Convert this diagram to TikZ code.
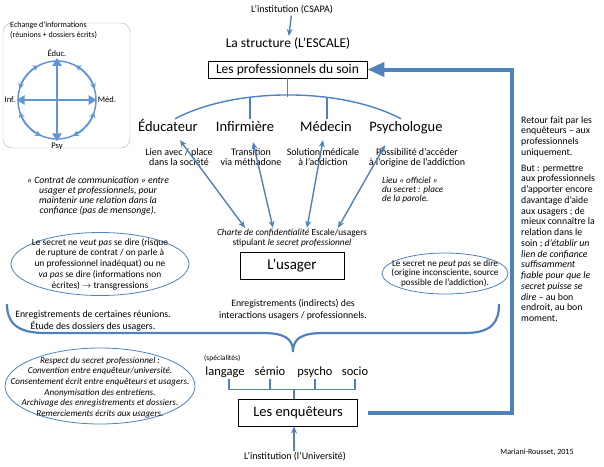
\documentclass[tikz,border=0pt]{standalone}
\usepackage{fontspec}
\setmainfont{Carlito}
\usepackage{tikz}
\usetikzlibrary{shapes.geometric, arrows.meta, positioning, calc}

\definecolor{lineblue}{RGB}{79,129,189}
\definecolor{ringblue}{RGB}{96,150,216}
\newcommand{\sz}[2]{\fontsize{#1}{#2}\selectfont}

\begin{document}
\begin{tikzpicture}[
    x=1pt, y=-1pt,
    % Framed boxes
    frame/.style={rectangle, draw=black, line width=0.9pt, inner sep=0pt, align=center},
    % Plain labels
    lab/.style={inner sep=1pt, align=center},
    % Profession labels
    trade/.style={lab, font=\sz{14.5}{16}, text height=11pt, text depth=3pt},
    % Specialty labels
    spec/.style={lab, font=\sz{12.5}{14}, text height=9pt, text depth=3pt},
    % Ellipses
    bubble/.style={ellipse, draw=lineblue, line width=0.8pt, inner sep=0pt},
    % Thin arrows
    arr/.style={-{Stealth[length=7pt,width=6pt]}, line width=1.4pt, draw=lineblue},
    darr/.style={{Stealth[length=7pt,width=6pt]}-{Stealth[length=7pt,width=6pt]}, line width=1.4pt, draw=lineblue},
    % Plain connectors
    link/.style={line width=1.4pt, draw=lineblue},
    % Feedback arrow
    back/.style={-{Triangle[length=17pt,width=14pt]}, line width=4pt, draw=lineblue},
    % Exchange ring
    ring/.style={{Stealth[length=6pt,width=6pt]}-{Stealth[length=6pt,width=6pt]}, line width=1.5pt, draw=ringblue},
    cross/.style={{Triangle[length=8pt,width=9pt]}-{Triangle[length=8pt,width=9pt]}, line width=2.8pt, draw=ringblue},
]

\useasboundingbox (0,0) rectangle (604,466);

% ===== EXCHANGE BOX =====
\node[draw=gray!60, rounded corners=9pt, minimum width=127pt, minimum height=125pt] (exch_box) at (66.5,85.5) {};
\node[lab, anchor=west, align=left, font=\sz{8}{10}] (exch_title) at (9,30)
    {Echange d’informations\\(réunions + dossiers écrits)};
\coordinate (exch_c) at (57,100);
\node[lab, font=\sz{8.5}{10}] (lab_educ) at (57,53) {Éduc.};
\node[lab, font=\sz{8.5}{10}] (lab_med) at (107,100) {Méd.};
\node[lab, font=\sz{8.5}{10}] (lab_inf) at (10,100) {Inf.};
\node[lab, font=\sz{8.5}{10}] (lab_psy) at (57,146) {Psy};

\draw[line width=1.5pt, ringblue] (exch_c) circle[radius=39pt];
\draw[ring] ([shift={(16:39pt)}]exch_c) arc[start angle=16, end angle=62, radius=39pt];
\draw[ring] ([shift={(118:39pt)}]exch_c) arc[start angle=118, end angle=164, radius=39pt];
\draw[ring] ([shift={(198:39pt)}]exch_c) arc[start angle=198, end angle=246, radius=39pt];
\draw[ring] ([shift={(294:39pt)}]exch_c) arc[start angle=294, end angle=342, radius=39pt];
\draw[cross] (lab_educ) -- (lab_psy);
\draw[cross] (lab_inf) -- (lab_med);

% ===== CARE SIDE =====
\node[lab, font=\sz{10}{12}] (inst_top) at (292,10) {L’institution (CSAPA)};
\node[lab, font=\sz{13.5}{15}] (structure) at (288,43) {La structure (L’ESCALE)};
\node[frame, minimum width=159pt, minimum height=17pt, font=\sz{13.5}{15}] (prof) at (287.5,69.5)
    {Les professionnels du soin};

\draw[arr] (inst_top) -- (structure);

\node[trade] (educ) at (168,127) {Éducateur};
\node[trade] (infirm) at (245,127) {Infirmière};
\node[trade] (medecin) at (326,127) {Médecin};
\node[trade] (psycho) at (406,127) {Psychologue};

\draw[link] (prof.south) -- ++(0,19);
\draw[link] ([xshift=7pt]educ.north) .. controls (235,87) and (341,87) .. ([xshift=-5pt]psycho.north);
\draw[link] ([xshift=5pt]infirm.north) -- ++(0,-22);
\draw[link] ([xshift=1pt]medecin.north) -- ++(0,-22);

\node[lab, font=\sz{10}{10}] (educ_note) at (179,157.5) {Lien avec / place\\dans la société};
\node[lab, font=\sz{10}{10}] (infirm_note) at (251,157.5) {Transition\\via méthadone};
\node[lab, font=\sz{10}{10}] (medecin_note) at (323,157.5) {Solution médicale\\à l’addiction};
\node[lab, font=\sz{10}{10}] (psycho_note) at (417,157.5) {Possibilité d’accéder\\à l’origine de l’addiction};

\node[lab, anchor=west, align=left, font=\sz{9.2}{9.2}\itshape] (lieu) at (381,190)
    {Lieu « officiel »\\du secret : place\\de la parole.};
\node[lab, font=\sz{9.7}{10.3}\itshape] (contrat) at (98,196)
    {« Contrat de communication » entre\\usager et professionnels, pour\\maintenir une relation dans la\\confiance (pas de mensonge).};

% ===== USER =====
\node[lab, font=\sz{9.3}{10}] (charte) at (292,238)
    {\textit{Charte de confidentialité} Escale/usagers\\stipulant \textit{le secret professionnel}};
\node[frame, minimum width=104pt, minimum height=27pt, font=\sz{15}{17}] (usager) at (292,265.5) {L’usager};

\draw[darr] ([xshift=-47pt]charte.north) -- ([xshift=12pt,yshift=-5pt]educ.south);
\draw[darr] ([xshift=-19pt]charte.north) -- ([xshift=8pt,yshift=-7pt]infirm.south);
\draw[darr] ([xshift=15pt]charte.north) -- ([xshift=-3pt,yshift=-5pt]medecin.south);
\draw[darr] ([xshift=46pt]charte.north) -- ([xshift=-21pt,yshift=-10pt]psycho.south);

\node[bubble, minimum width=178pt, minimum height=63pt] (secret_l) at (100,264) {};
\node[lab, font=\sz{9.4}{10.7}] (secret_l_txt) at (secret_l)
    {Le secret ne \textit{veut pas} se dire (risque\\de rupture de contrat / on parle à\\un professionnel inadéquat) ou ne\\\textit{va pas} se dire (informations non\\écrites) $\rightarrow$ transgressions};

\node[bubble, minimum width=126pt, minimum height=41pt] (secret_r) at (445,273.5) {};
\node[lab, font=\sz{9.2}{9.6}] (secret_r_txt) at (secret_r)
    {Le secret ne \textit{peut pas} se dire\\(origine inconsciente, source\\possible de l’addiction).};

\node[lab, font=\sz{9.8}{12.5}] (enreg_l) at (93,321) {Enregistrements de certaines réunions.\\Étude des dossiers des usagers.};
\node[lab, font=\sz{9.8}{12.5}] (enreg_m) at (293,310) {Enregistrements (indirects) des\\interactions usagers / professionnels.};

% big brace
\coordinate (brace_tip) at (293,352);
\draw[line width=2.2pt, lineblue] (7,304) .. controls (7,322) and (16,333) .. (45,333) -- (262,333)
    .. controls (284,333) and (293,338) .. (brace_tip)
    .. controls (293,338) and (302,333) .. (324,333) -- (465,333)
    .. controls (492,333) and (499,322) .. (499,304);

% ===== RESEARCHERS =====
\node[lab, anchor=west, font=\sz{7.5}{9}] (spec_title) at (203,358) {(spécialités)};
\node[spec] (spec_lang) at (225,372) {langage};
\node[spec] (spec_semio) at (270,372) {sémio};
\node[spec] (spec_psycho) at (315,372) {psycho};
\node[spec] (spec_socio) at (355,372) {socio};

\node[frame, minimum width=119pt, minimum height=27pt, font=\sz{14.5}{16}] (enq) at (298,412.5) {Les enquêteurs};

\draw[link] ([xshift=4pt]spec_lang.south) -- ++(0,10) coordinate (comb_l) -- (comb_l -| spec_socio.south) -- (spec_socio.south);
\draw[link] (spec_semio.south) -- (spec_semio.south |- comb_l);
\draw[link] (spec_psycho.south) -- (spec_psycho.south |- comb_l);
\draw[link] ([xshift=-4pt]enq.north) -- ([xshift=-4pt]enq.north |- comb_l);

\node[lab, font=\sz{10}{12}] (inst_bot) at (295,457) {L’institution (l’Université)};
\draw[arr] ([xshift=-1pt]inst_bot.north) -- ([xshift=-4pt]enq.south);

\node[bubble, minimum width=190pt, minimum height=76pt] (respect) at (100,386) {};
\node[lab, font=\sz{9.1}{10.6}\itshape] (respect_txt) at (100,387.5)
    {Respect du secret professionnel :\\Convention entre enquêteur/université.\\Consentement écrit entre enquêteurs et usagers.\\Anonymisation des entretiens.\\Archivage des enregistrements et dossiers.\\Remerciements écrits aux usagers.};

% ===== FEEDBACK =====
\coordinate (fb_top) at (512,69.5);
\draw[back] ([xshift=10pt]enq.east) -| (fb_top) -- (prof.east);

\node[lab, anchor=north west, align=left, font=\sz{9.8}{10.75}] (retour) at (520,115)
    {Retour fait par les\\enquêteurs – aux\\professionnels\\uniquement.\\[5pt]
     But : permettre\\aux professionnels\\d’apporter encore\\davantage d’aide\\aux usagers ; de\\mieux connaître la\\relation dans le\\soin ; \textit{d’établir un}\\\textit{lien de confiance}\\\textit{suffisamment}\\\textit{fiable pour que le}\\\textit{secret puisse se}\\\textit{dire} – au bon\\endroit, au bon\\moment.};

\node[lab, font=\sz{8}{10}] (credit) at (537,452) {Mariani-Rousset, 2015};

\end{tikzpicture}
\end{document}
